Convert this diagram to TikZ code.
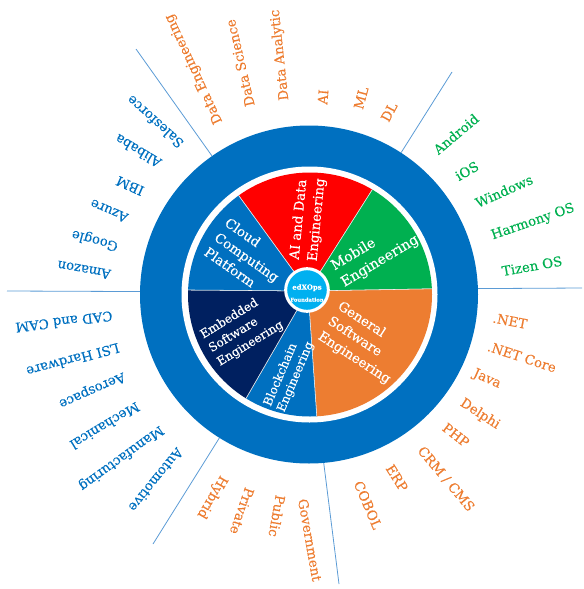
\documentclass[tikz,border=0pt]{standalone}
\usepackage{fontspec}
\setmainfont[FakeBold=0.2]{DejaVu Serif}
\usepackage{xcolor}
\usepackage{tikz}
\usetikzlibrary{calc}
\definecolor{ringblue}{HTML}{0070C0}
\definecolor{navyseg}{HTML}{002060}
\definecolor{orangeseg}{HTML}{ED7D31}
\definecolor{greenseg}{HTML}{00B050}
\definecolor{redseg}{HTML}{FF0000}
\definecolor{hubcyan}{HTML}{00B0F0}
\definecolor{spokeline}{HTML}{5B9BD5}
\tikzset{
  every node/.style={inner sep=0pt},
  ringdisc/.style={circle, fill=ringblue, minimum size=253.5pt},
  gapdisc/.style={circle, fill=white, minimum size=192pt},
  hub/.style={circle, draw=white, line width=2.25pt, fill=hubcyan, minimum size=32pt},
  hubtext/.style={text=white, align=center, font=\bfseries},
  wedge/.style={draw=white!85!gray, line width=0.4pt},
  seglabel/.style={text=white, align=left, font=\fontsize{10}{13.5}\selectfont},
  smallseg/.style={text=white, align=left, font=\fontsize{9}{12}\selectfont},
  orangelabel/.style={text=orangeseg, font=\fontsize{10}{12}\selectfont},
  bluelabel/.style={text=ringblue, font=\fontsize{10}{12}\selectfont},
  greenlabel/.style={text=greenseg, font=\fontsize{10}{12}\selectfont},
  spoke/.style={draw=spokeline, line width=0.6pt},
}
\begin{document}
\begin{tikzpicture}[x=0.75pt,y=0.75pt]
  \useasboundingbox (0,0) rectangle (584,-589);
  \coordinate (c) at (308,-291);
  \node[ringdisc] (ring) at (309,-294.5) {};
  \node[gapdisc] (gap) at (309.5,-294.5) {};
  % pie
  \begin{scope}
    \clip (310,-294.5) circle (91.5pt);
    \filldraw[wedge, fill=redseg] (c) -- ($(c)+(57.6:200pt)$) -- ($(c)+(126:200pt)$) -- cycle;
    \filldraw[wedge, fill=greenseg] (c) -- ($(c)+(1:200pt)$) -- ($(c)+(57.6:200pt)$) -- cycle;
    \filldraw[wedge, fill=orangeseg] (c) -- ($(c)+(-86:200pt)$) -- ($(c)+(1:200pt)$) -- cycle;
    \filldraw[wedge, fill=ringblue] (c) -- ($(c)+(-120:200pt)$) -- ($(c)+(-86:200pt)$) -- cycle;
    \filldraw[wedge, fill=navyseg] (c) -- ($(c)+(179.5:200pt)$) -- ($(c)+(-120:200pt)$) -- cycle;
    \filldraw[wedge, fill=ringblue] (c) -- ($(c)+(126:200pt)$) -- ($(c)+(179.5:200pt)$) -- cycle;
  \end{scope}
  \node[hub] (core) at (307,-290) {};
  \node[hubtext] (corename) at (307,-293) {\fontsize{5.2}{6}\selectfont edXOps\\[-3pt]\fontsize{3.9}{5}\selectfont Foundation};
  % spokes
  \coordinate (endnw) at (136,-49);
  \coordinate (endne) at (452,-72);
  \coordinate (ende) at (582,-288);
  \coordinate (endw) at (7,-291);
  \coordinate (endsw) at (153,-544);
  \coordinate (ends) at (339,-584);
  \draw[spoke] (ring.125) -- (endnw);
  \draw[spoke] (ring.57) -- (endne);
  \draw[spoke] (ring.2) -- (ende);
  \draw[spoke] (ring.179) -- (endw);
  \draw[spoke] (ring.-122) -- (endsw);
  \draw[spoke] (ring.-85) -- (ends);
  % segment names
  \node[seglabel, rotate=84.5] (aidata) at (308,-219) {AI and Data\\Engineering};
  \node[seglabel, rotate=31, font=\fontsize{10.5}{14.5}\selectfont] (mobile) at (375,-253) {Mobile\\Engineering};
  \node[seglabel, rotate=-33] (general) at (364,-343) {General\\Software\\Engineering};
  \node[smallseg, rotate=67, font=\fontsize{9}{11}\selectfont] (chain) at (289,-374) {Blockchain\\Engineering};
  \node[smallseg, rotate=31.5] (embedded) at (242,-330) {Embedded\\Software\\Engineering};
  \node[seglabel, rotate=-35] (cloud) at (247,-257) {Cloud\\Computing\\Platform};
  % outer labels, AI group
  \node[orangelabel, rotate=115] (dataeng) at (194,-69) {Data Engineering};
  \node[orangelabel, rotate=103] (datasci) at (240,-63) {Data Science};
  \node[orangelabel, rotate=96] (dataana) at (280,-55) {Data Analytic};
  \node[orangelabel, rotate=85] (ai) at (323,-97) {AI};
  \node[orangelabel, rotate=75] (ml) at (361,-98) {ML};
  \node[orangelabel, rotate=62] (dl) at (389,-112) {DL};
  % mobile group
  \node[greenlabel, rotate=40] (android) at (456,-134) {Android};
  \node[greenlabel, rotate=30] (ios) at (467,-171) {iOS};
  \node[greenlabel, rotate=24] (windows) at (504,-191) {Windows};
  \node[greenlabel, rotate=19] (harmony) at (533,-222) {Harmony OS};
  \node[greenlabel, rotate=10] (tizen) at (532,-266) {Tizen OS};
  % general group
  \node[orangelabel, rotate=-11] (dotnet) at (510,-321) {.NET};
  \node[orangelabel, rotate=-18] (netcore) at (522,-357) {.NET Core};
  \node[orangelabel, rotate=-24] (java) at (487,-379) {Java};
  \node[orangelabel, rotate=-33] (delphi) at (480,-414) {Delphi};
  \node[orangelabel, rotate=-38] (php) at (456,-435) {PHP};
  \node[orangelabel, rotate=-50] (crm) at (446,-479) {CRM / CMS};
  \node[orangelabel, rotate=-58] (erp) at (397,-478) {ERP};
  \node[orangelabel, rotate=-67] (cobol) at (368,-505) {COBOL};
  % blockchain group
  \node[orangelabel, rotate=-80] (govt) at (310,-540) {Government};
  \node[orangelabel, rotate=-100] (public) at (277,-516) {Public};
  \node[orangelabel, rotate=-109] (private) at (242,-511) {Private};
  \node[orangelabel, rotate=-120] (hybrid) at (212,-497) {Hybrid};
  % embedded group
  \node[bluelabel, rotate=-129] (auto) at (156,-480) {Automotive};
  \node[bluelabel, rotate=-144] (manuf) at (121,-458) {Manufacturing};
  \node[bluelabel, rotate=-149] (mech) at (105,-426) {Mechanical};
  \node[bluelabel, rotate=-156] (aero) at (92,-390) {Aerospace};
  \node[bluelabel, rotate=-165] (lsi) at (73,-360) {LSI Hardware};
  \node[bluelabel, rotate=-173] (cad) at (64,-322) {CAD and CAM};
  % cloud group
  \node[bluelabel, rotate=170] (amazon) at (84,-270) {Amazon};
  \node[bluelabel, rotate=165] (google) at (95,-240) {Google};
  \node[bluelabel, rotate=157] (azure) at (109,-211) {Azure};
  \node[bluelabel, rotate=156] (ibm) at (130,-186) {IBM};
  \node[bluelabel, rotate=149] (alibaba) at (138,-151) {Alibaba};
  \node[bluelabel, rotate=138] (sales) at (155,-122) {Salesforce};
\end{tikzpicture}
\end{document}
